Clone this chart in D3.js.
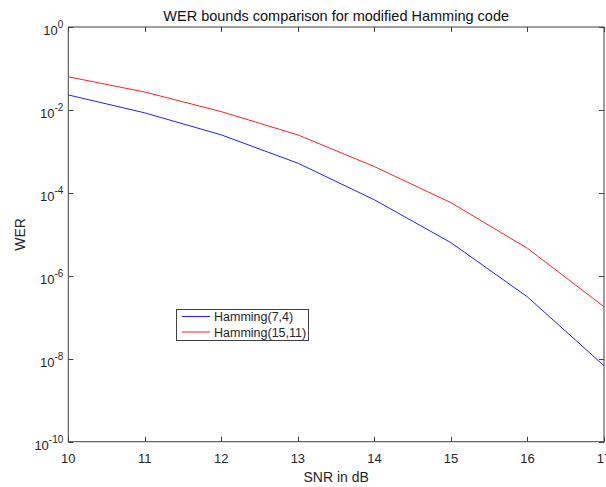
<!DOCTYPE html>
<html><head><meta charset="utf-8">
<script src="https://cdn.jsdelivr.net/npm/d3@7"></script>
<style>body{margin:0;background:#fff}svg{display:block}text{font-family:"Liberation Sans",Arial,sans-serif;fill:#262626}</style>
</head><body>
<script>
const snr = [10, 11, 12, 13, 14, 15, 16, 17];
const werHamming74 = [2.3e-2, 8.5e-3, 2.5e-3, 5.2e-4, 6.8e-5, 6.3e-6, 3.1e-7, 6.8e-9];
const werHamming1511 = [6.3e-2, 2.7e-2, 9.1e-3, 2.5e-3, 4.3e-4, 5.8e-5, 4.6e-6, 1.8e-7];
const seriesNames = ["Hamming(7,4)", "Hamming(15,11)"];
const seriesColors = ["#2020ff", "#ff2020"];
const xTicks = [10, 11, 12, 13, 14, 15, 16, 17];
const yExps = [0, -2, -4, -6, -8, -10];

const W = 606, H = 487;
const m = {l: 68.3, r: 604, t: 27, b: 441.7};
const svg = d3.select("body").append("svg").attr("width", W).attr("height", H);
const x = d3.scaleLinear().domain([10, 17]).range([m.l, m.r]);
const y = d3.scaleLog().domain([1e-10, 1]).range([m.b, m.t]);

const axCol = "#404040";
svg.append("rect").attr("x", m.l).attr("y", m.t).attr("width", m.r - m.l).attr("height", m.b - m.t)
  .attr("fill", "none").attr("stroke", axCol).attr("stroke-width", 1);

const tl = 5;
xTicks.forEach(v => {
  const px = Math.round(x(v)) + 0.5;
  svg.append("line").attr("x1", px).attr("x2", px).attr("y1", m.b).attr("y2", m.b - tl).attr("stroke", axCol);
  svg.append("line").attr("x1", px).attr("x2", px).attr("y1", m.t).attr("y2", m.t + tl).attr("stroke", axCol);
  svg.append("text").attr("x", x(v)).attr("y", m.b + 21).attr("text-anchor", "middle")
    .attr("font-size", 13).text(v);
});
yExps.forEach(e => {
  const py = Math.round(y(Math.pow(10, e))) + 0.5;
  svg.append("line").attr("x1", m.l).attr("x2", m.l + tl).attr("y1", py).attr("y2", py).attr("stroke", axCol);
  svg.append("line").attr("x1", m.r).attr("x2", m.r - tl).attr("y1", py).attr("y2", py).attr("stroke", axCol);
  const t = svg.append("text").attr("x", m.l - 5).attr("y", y(Math.pow(10, e)) + 8).attr("text-anchor", "end")
    .attr("font-size", 13);
  t.append("tspan").text("10");
  t.append("tspan").attr("dy", -7).attr("font-size", 10).text(e);
});

const line = d3.line().x((d, i) => x(snr[i])).y(d => y(d));
[werHamming74, werHamming1511].forEach((s, k) => {
  svg.append("path").datum(s).attr("d", line).attr("fill", "none")
    .attr("stroke", seriesColors[k]).attr("stroke-width", 1);
});

svg.append("text").attr("x", (m.l + m.r) / 2).attr("y", 21).attr("text-anchor", "middle")
  .attr("font-size", 14.5).style("fill", "#111").text("WER bounds comparison for modified Hamming code");
svg.append("text").attr("x", (m.l + m.r) / 2).attr("y", 482).attr("text-anchor", "middle")
  .attr("font-size", 14).text("SNR in dB");
svg.append("text").attr("transform", `translate(25,${(m.t + m.b) / 2}) rotate(-90)`).attr("text-anchor", "middle")
  .attr("font-size", 14).text("WER");

const lg = svg.append("g");
lg.append("rect").attr("x", 176.5).attr("y", 309.5).attr("width", 132).attr("height", 31)
  .attr("fill", "#fff").attr("stroke", axCol).attr("stroke-width", 1);
seriesNames.forEach((n, i) => {
  const yy = 316.5 + i * 15.5;
  lg.append("line").attr("x1", 182).attr("x2", 210).attr("y1", yy).attr("y2", yy)
    .attr("stroke", seriesColors[i]).attr("stroke-width", 1);
  lg.append("text").attr("x", 214).attr("y", yy + 4.5).attr("font-size", 12.5).text(n);
});
</script>
</body></html>
